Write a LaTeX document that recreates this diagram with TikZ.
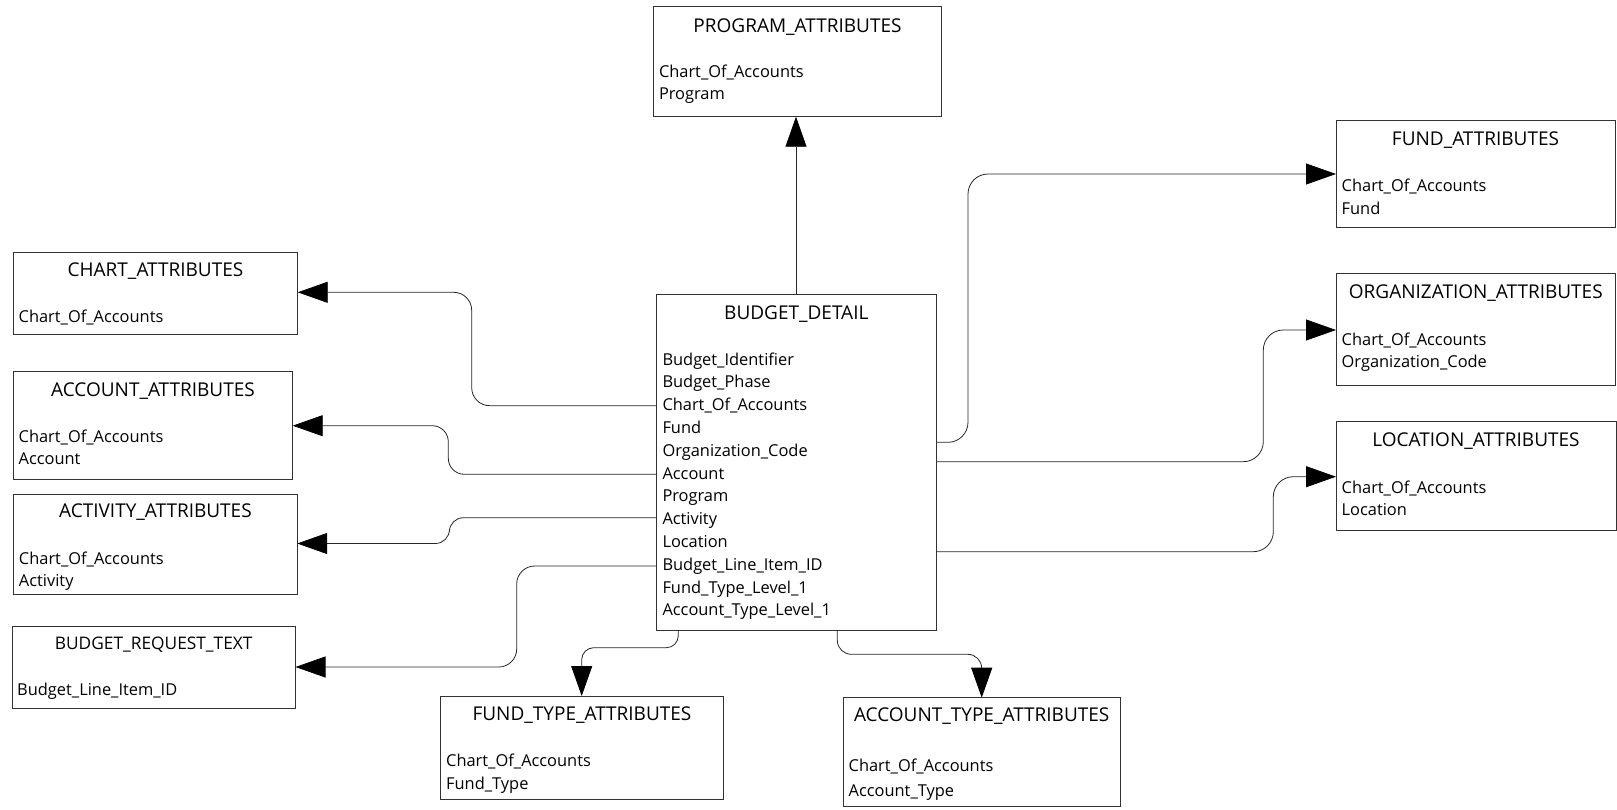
\documentclass[tikz,border=0pt]{standalone}
\usepackage{fontspec}
\setmainfont{Open Sans}
\usetikzlibrary{arrows.meta}
\begin{document}
\begin{tikzpicture}[x=1pt,y=-1pt,
  box/.style={draw=black!80, line width=0.9pt, inner sep=0pt, outer sep=0pt, anchor=north west},
  ttl/.style={inner sep=0pt, anchor=base, font=\fontsize{19}{22}\selectfont},
  attr/.style={inner sep=0pt, anchor=base west, font=\fontsize{16.4}{20}\selectfont},
  conn/.style={draw=black!85, line width=0.8pt, rounded corners=18pt,
    -{Triangle[length=30pt,width=21pt,color=black]}}]
\useasboundingbox (0,0) rectangle (1617,809);

% entity boxes
\node[box, minimum width=288.4pt, minimum height=110.7pt] (prog)  at (653.3,6)   {};
\node[box, minimum width=279.3pt, minimum height=335.3pt] (bd)    at (656.7,294.7) {};
\node[box, minimum width=284.4pt, minimum height=82pt]    (chart) at (13.3,252.3) {};
\node[box, minimum width=279.4pt, minimum height=107.6pt] (acct)  at (13.3,371.7) {};
\node[box, minimum width=283.4pt, minimum height=100pt]   (act)   at (13.8,494.3) {};
\node[box, minimum width=283.5pt, minimum height=82.3pt]  (brt)   at (12,626)     {};
\node[box, minimum width=282.6pt, minimum height=103.3pt] (ft)    at (440.7,696)  {};
\node[box, minimum width=276.7pt, minimum height=109pt]   (at)    at (843.3,697.7) {};
\node[box, minimum width=279pt,   minimum height=106.6pt] (fund)  at (1336,120.7) {};
\node[box, minimum width=279.5pt, minimum height=112.4pt] (org)   at (1336,273.3) {};
\node[box, minimum width=280pt,   minimum height=108.3pt] (loc)   at (1336,421.7) {};

% titles
\node[ttl] (prog-t)  at (797.5,32.3)  {PROGRAM\_ATTRIBUTES};
\node[ttl] (bd-t)    at (796.3,319.3) {BUDGET\_DETAIL};
\node[ttl] (chart-t) at (155.5,276.7) {CHART\_ATTRIBUTES};
\node[ttl] (acct-t)  at (153,396.7)   {ACCOUNT\_ATTRIBUTES};
\node[ttl] (act-t)   at (155.5,517.3) {ACTIVITY\_ATTRIBUTES};
\node[ttl, font=\fontsize{17.3}{20}\selectfont] (brt-t) at (153.7,649.3) {BUDGET\_REQUEST\_TEXT};
\node[ttl] (ft-t)    at (582,720)     {FUND\_TYPE\_ATTRIBUTES};
\node[ttl] (at-t)    at (981.7,721.7) {ACCOUNT\_TYPE\_ATTRIBUTES};
\node[ttl] (fund-t)  at (1475.5,145)  {FUND\_ATTRIBUTES};
\node[ttl] (org-t)   at (1475.8,298.3) {ORGANIZATION\_ATTRIBUTES};
\node[ttl] (loc-t)   at (1476,446)    {LOCATION\_ATTRIBUTES};

% attribute lists
\node[attr] (prog-a1) at (658.8,77.7) {Chart\_Of\_Accounts};
\node[attr] (prog-a2) at (658.8,99.8) {Program};

\foreach \t [count=\i from 0] in {Budget\_Identifier, Budget\_Phase, Chart\_Of\_Accounts,
  Fund, Organization\_Code, Account, Program, Activity, Location,
  Budget\_Line\_Item\_ID, Fund\_Type\_Level\_1, Account\_Type\_Level\_1}
  \node[attr] (bd-a\i) at (662.3,365+22.8*\i) {\t};

\node[attr] (chart-a1) at (18.5,322.3) {Chart\_Of\_Accounts};
\node[attr] (acct-a1)  at (18.5,442.7) {Chart\_Of\_Accounts};
\node[attr] (acct-a2)  at (18.5,464)   {Account};
\node[attr] (act-a1)   at (18.8,564)   {Chart\_Of\_Accounts};
\node[attr] (act-a2)   at (18.8,586)   {Activity};
\node[attr] (brt-a1)   at (17,695)     {Budget\_Line\_Item\_ID};
\node[attr] (ft-a1)    at (446,766.7)  {Chart\_Of\_Accounts};
\node[attr] (ft-a2)    at (446,789.3)  {Fund\_Type};
\node[attr] (at-a1)    at (848.5,771.7) {Chart\_Of\_Accounts};
\node[attr] (at-a2)    at (848.5,796.7) {Account\_Type};
\node[attr] (fund-a1)  at (1341.5,191.7) {Chart\_Of\_Accounts};
\node[attr] (fund-a2)  at (1341.5,214)   {Fund};
\node[attr] (org-a1)   at (1341.5,345.7) {Chart\_Of\_Accounts};
\node[attr] (org-a2)   at (1341.5,367.3) {Organization\_Code};
\node[attr] (loc-a1)   at (1341.5,493.3) {Chart\_Of\_Accounts};
\node[attr] (loc-a2)   at (1341.5,515)   {Location};

% relationships
\draw[conn, rounded corners=0pt] (bd.north -| 796,0) -- (prog.south -| 796,0);
\draw[conn] (bd.west |- 0,405.7) -- (471.7,405.7) -- (471.7,292.3) -- (chart.east |- 0,292.3);
\draw[conn, rounded corners=16pt] (bd.west |- 0,474.3) -- (448.3,474.3) -- (448.3,425.7) -- (acct.east |- 0,425.7);
\draw[conn, rounded corners=14pt] (bd.west |- 0,517.7) -- (449.4,517.7) -- (449.4,543.5) -- (act.east |- 0,543.5);
\draw[conn] (bd.west |- 0,566) -- (516.7,566) -- (516.7,667) -- (brt.east |- 0,667);
\draw[conn, rounded corners=12pt] (bd.south -| 678.3,0) -- (678.3,647.7) -- (581.7,647.7) -- (ft.north -| 581.7,0);
\draw[conn, rounded corners=14pt] (bd.south -| 837.3,0) -- (837.3,654.3) -- (981.7,654.3) -- (at.north -| 981.7,0);
\draw[conn, rounded corners=20pt] (bd.east |- 0,442.3) -- (968,442.3) -- (968,174) -- (fund.west |- 0,174);
\draw[conn, rounded corners=20pt] (bd.east |- 0,461.7) -- (1263.3,461.7) -- (1263.3,330) -- (org.west |- 0,330);
\draw[conn, rounded corners=20pt] (bd.east |- 0,551.7) -- (1273.3,551.7) -- (1273.3,476.7) -- (loc.west |- 0,476.7);
\end{tikzpicture}
\end{document}
